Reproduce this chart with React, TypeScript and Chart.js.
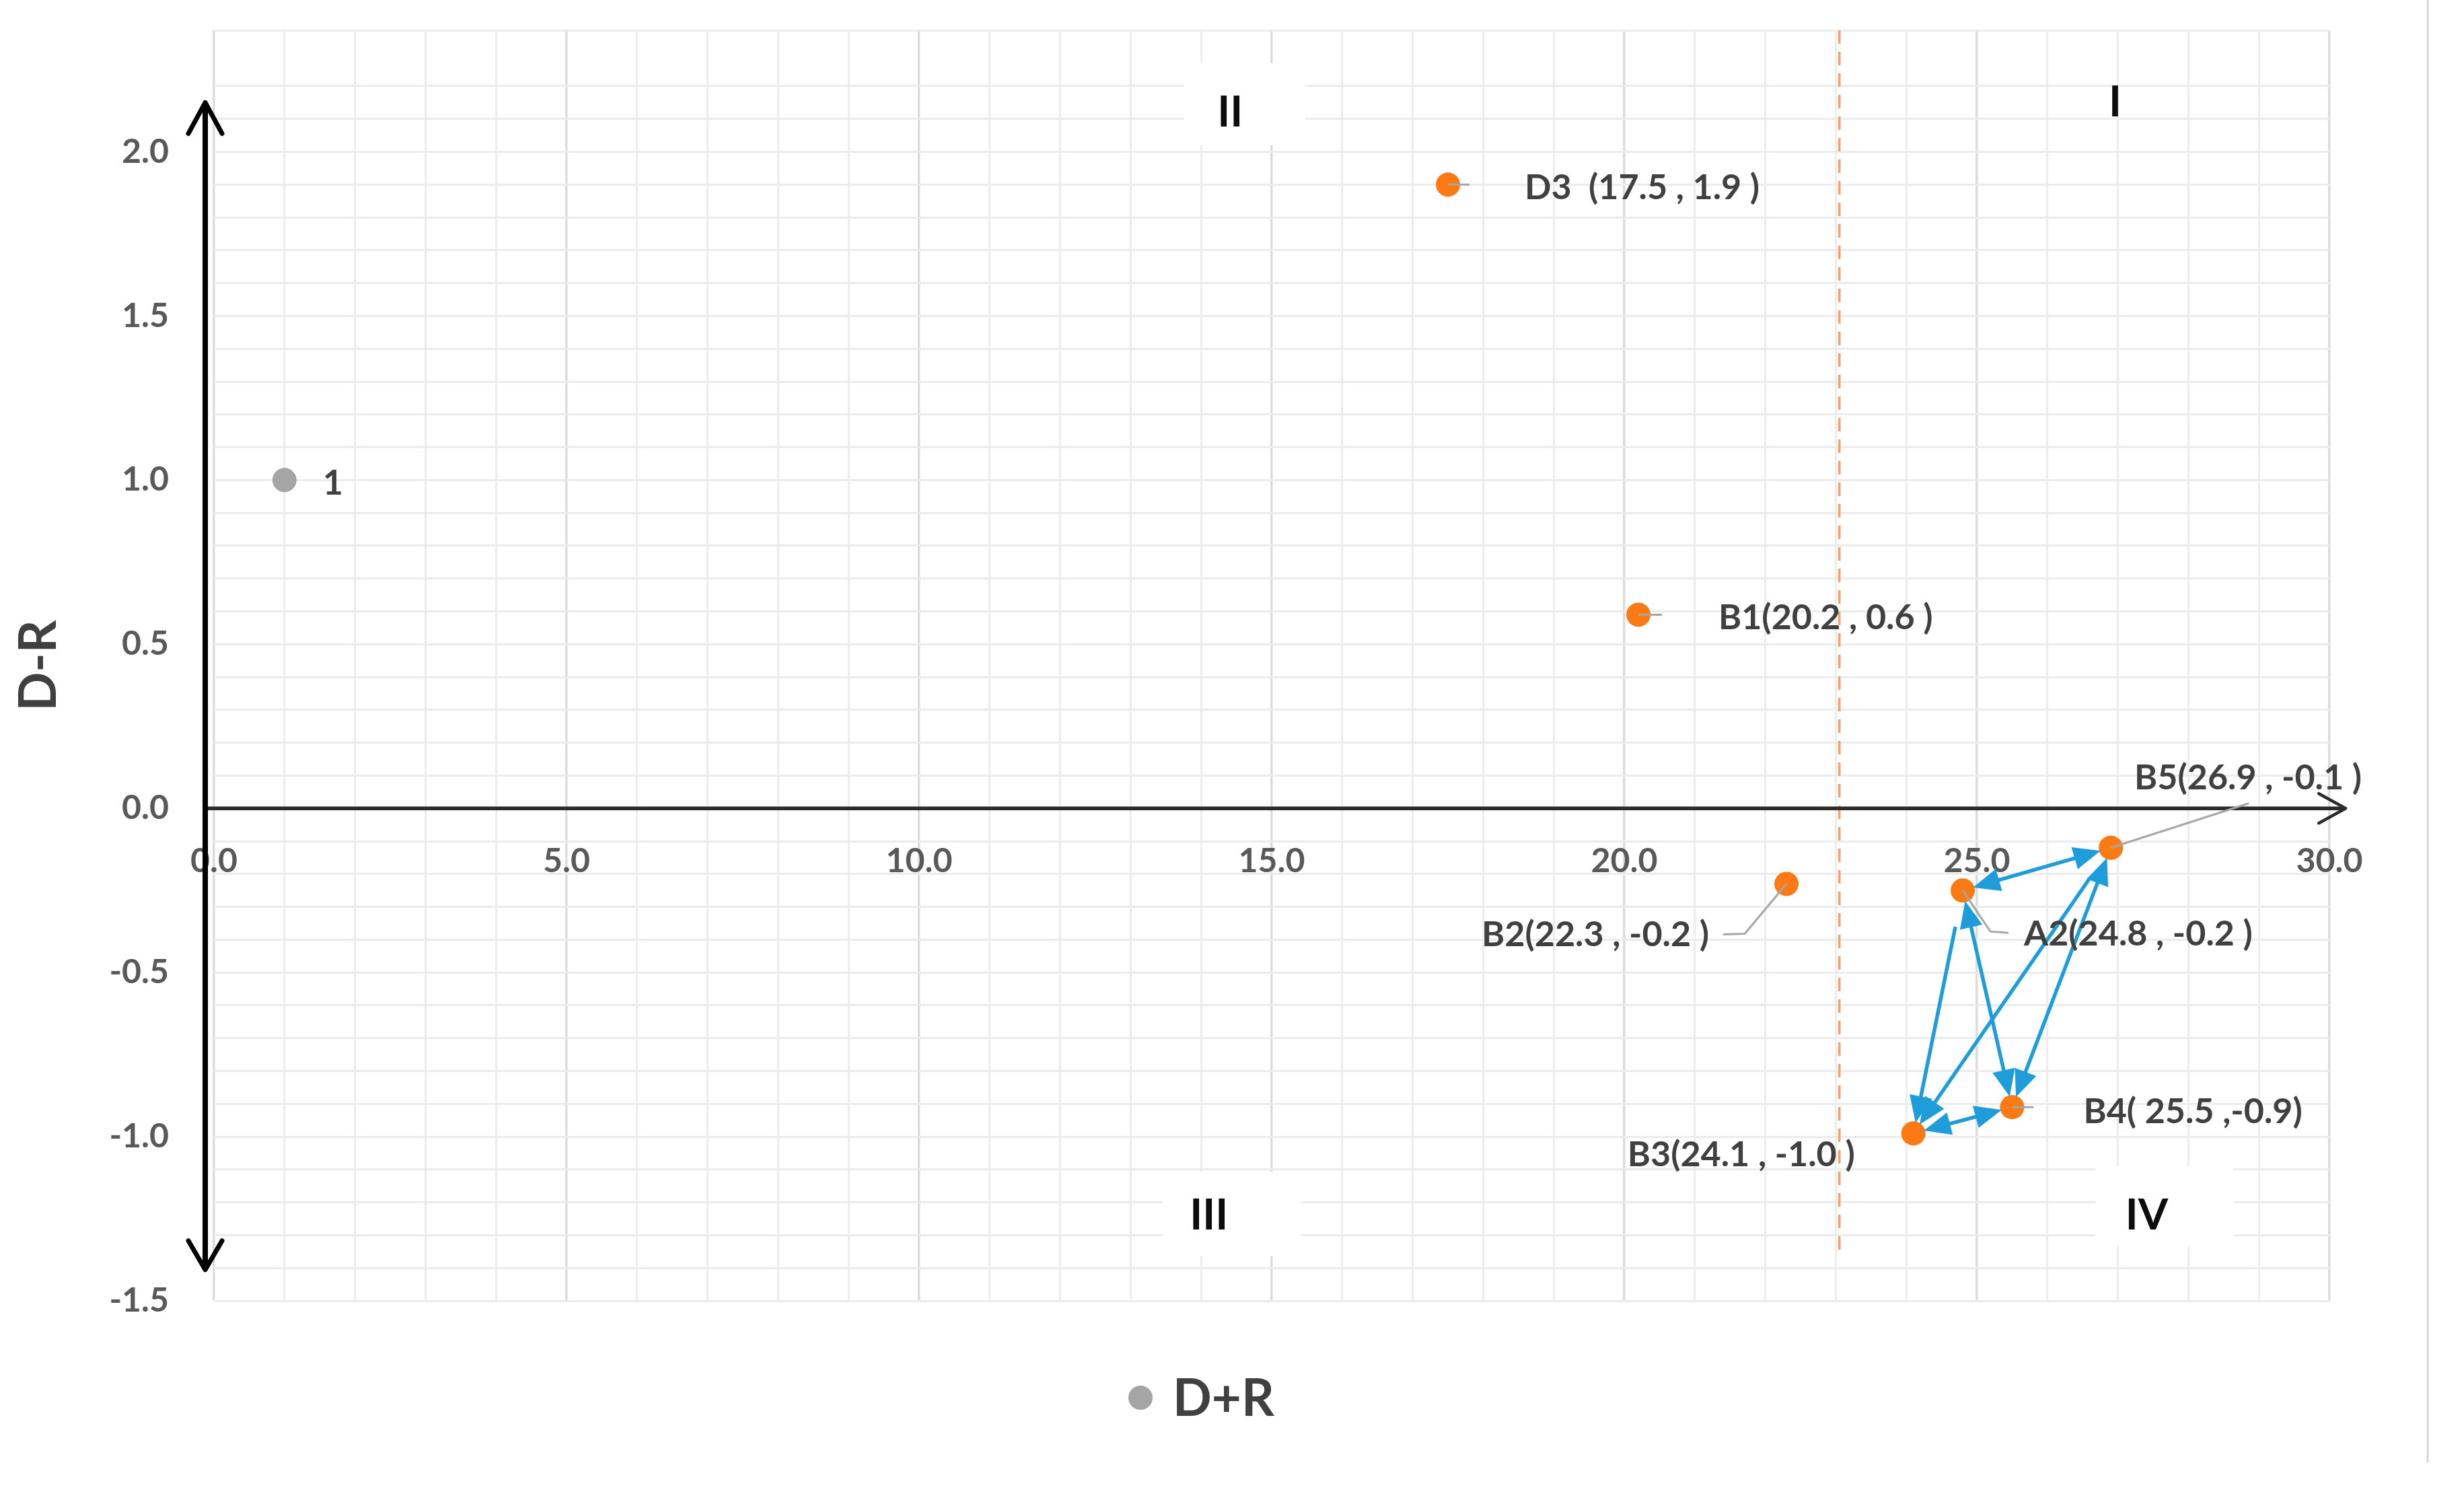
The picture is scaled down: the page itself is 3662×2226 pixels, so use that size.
import React, { useEffect, useRef } from 'react';
import { Chart, registerables } from 'chart.js';

Chart.register(...registerables);

// ---------------- data ----------------
const X_MIN = 0;
const X_MAX = 30;
const X_STEP = 1;
const Y_MIN = -1.5;
const Y_MAX = 2.37;
const Y_STEP = 0.1;

const X_TITLE = 'D+R';
const Y_TITLE = 'D-R';

const GRAY_SERIES_LABEL = 'D+R';
const GRAY_X = [1.0];
const GRAY_Y = [1.0];
const GRAY_LABELS = ['1'];

const POINT_NAMES = ['D3', 'B1', 'B2', 'A2', 'B5', 'B4', 'B3'];
const POINT_X = [17.5, 20.2, 22.3, 24.8, 26.9, 25.5, 24.1];
const POINT_Y = [1.9, 0.59, -0.23, -0.25, -0.12, -0.91, -0.99];
const POINT_LABELS = [
  'D3  (17.5 , 1.9 )',
  'B1(20.2 , 0.6 )',
  'B2(22.3 , -0.2 )',
  'A2(24.8 , -0.2 )',
  'B5(26.9 , -0.1 )',
  'B4( 25.5 ,-0.9)',
  'B3(24.1 , -1.0 )',
];

const THRESHOLD_X = 23.05;
const THRESHOLD_Y_TOP = 2.37;
const THRESHOLD_Y_BOTTOM = -1.355;

const QUADRANT_LABELS = ['I', 'II', 'III', 'IV'];
const QUADRANT_X = [26.96, 14.41, 14.11, 27.41];
const QUADRANT_Y = [2.15, 2.12, -1.24, -1.24];

// axis arrow extents (data units)
const AXIS_Y_TOP = 2.15;
const AXIS_Y_BOTTOM = -1.405;
const AXIS_X_END = 30.23;

// transition arrows between points
const ARROW_FROM = ['A2', 'A2', 'B4', 'B5', 'B3', 'A2'];
const ARROW_TO = ['B5', 'B4', 'B5', 'B3', 'B4', 'B3'];
const ARROW_HEAD_START = [true, true, true, false, true, false];
const ARROW_HEAD_END = [true, true, true, true, true, true];

// ---------------- styles ----------------
const FONT = 'Lato, "Open Sans", "DejaVu Sans", sans-serif';
const ORANGE = '#FB7A14';
const GRAY = '#A5A5A5';
const BLUE = '#1E9DDA';
const TEXT = '#404040';
const TICK_TEXT = '#595959';

// label placement in pixels relative to point
const LABEL_STYLE: Record<string, { dx: number; dy: number; align: CanvasTextAlign; leader: number[][] }> = {
  D3: { dx: 114, dy: 5, align: 'left', leader: [[0, 0], [32, 0]] },
  B1: { dx: 119, dy: 5, align: 'left', leader: [[0, 0], [35, 0]] },
  B2: { dx: -115, dy: 76, align: 'right', leader: [[0, 0], [-62, 74], [-94, 75]] },
  A2: { dx: 91, dy: 65, align: 'left', leader: [[0, 0], [41, 61], [68, 63]] },
  B5: { dx: 35, dy: -104, align: 'left', leader: [[0, 0], [205, -66]] },
  B4: { dx: 106, dy: 7, align: 'left', leader: [[0, 0], [32, 0]] },
  B3: { dx: -87, dy: 32, align: 'right', leader: [] },
};
const GRAY_LABEL_OFFSET = { dx: 57, dy: 5 };
const QUADRANT_BOX = [null, { dx: 22, dy: -12, w: 180, h: 122 }, { dx: 34, dy: -2, w: 205, h: 125 }, { dx: 26, dy: -14, w: 205, h: 118 }];

function idx(name: string) {
  return POINT_NAMES.indexOf(name);
}

function drawHead(ctx: CanvasRenderingContext2D, tx: number, ty: number, ux: number, uy: number) {
  const HL = 40;
  const HW = 17;
  const bx = tx - ux * HL;
  const by = ty - uy * HL;
  ctx.beginPath();
  ctx.moveTo(tx, ty);
  ctx.lineTo(bx - uy * HW, by + ux * HW);
  ctx.lineTo(bx + uy * HW, by - ux * HW);
  ctx.closePath();
  ctx.fill();
}

const overlayPlugin = {
  id: 'overlay',
  beforeDatasetsDraw(chart: any) {
    const { ctx, chartArea } = chart;
    const xs = chart.scales.x;
    const ys = chart.scales.y;
    ctx.save();

    // white boxes behind quadrant labels
    QUADRANT_LABELS.forEach((t, i) => {
      const b = QUADRANT_BOX[i];
      if (!b) return;
      const px = xs.getPixelForValue(QUADRANT_X[i]) + b.dx;
      const py = ys.getPixelForValue(QUADRANT_Y[i]) + b.dy;
      ctx.fillStyle = '#ffffff';
      ctx.fillRect(px - b.w / 2, py - b.h / 2, b.w, b.h);
    });

    // quadrant labels
    ctx.fillStyle = '#0d0d0d';
    ctx.font = `bold 64px ${FONT}`;
    ctx.textAlign = 'center';
    ctx.textBaseline = 'middle';
    QUADRANT_LABELS.forEach((t, i) => {
      ctx.fillText(t, xs.getPixelForValue(QUADRANT_X[i]), ys.getPixelForValue(QUADRANT_Y[i]));
    });

    // dashed threshold line
    const tx = xs.getPixelForValue(THRESHOLD_X);
    ctx.strokeStyle = '#F5A070';
    ctx.lineWidth = 3.5;
    ctx.setLineDash([20, 12]);
    ctx.beginPath();
    ctx.moveTo(tx, ys.getPixelForValue(THRESHOLD_Y_TOP));
    ctx.lineTo(tx, ys.getPixelForValue(THRESHOLD_Y_BOTTOM));
    ctx.stroke();
    ctx.setLineDash([]);

    // axes with arrows
    const ax = chartArea.left - 13;
    const yTop = ys.getPixelForValue(AXIS_Y_TOP);
    const yBot = ys.getPixelForValue(AXIS_Y_BOTTOM);
    const y0 = ys.getPixelForValue(0);
    const xEnd = xs.getPixelForValue(AXIS_X_END);

    ctx.lineCap = 'round';
    ctx.lineJoin = 'round';
    ctx.strokeStyle = '#2b2b2b';
    ctx.lineWidth = 5.5;
    ctx.beginPath();
    ctx.moveTo(ax, y0);
    ctx.lineTo(xEnd - 2, y0);
    ctx.stroke();
    ctx.lineWidth = 4.5;
    ctx.beginPath();
    ctx.moveTo(xEnd - 40, y0 - 22);
    ctx.lineTo(xEnd, y0);
    ctx.lineTo(xEnd - 40, y0 + 22);
    ctx.stroke();

    ctx.strokeStyle = '#000000';
    ctx.lineWidth = 8;
    ctx.beginPath();
    ctx.moveTo(ax, yTop + 3);
    ctx.lineTo(ax, yBot - 3);
    ctx.stroke();
    ctx.lineWidth = 7;
    ctx.beginPath();
    ctx.moveTo(ax - 25, yTop + 46);
    ctx.lineTo(ax, yTop);
    ctx.lineTo(ax + 25, yTop + 46);
    ctx.stroke();
    ctx.beginPath();
    ctx.moveTo(ax - 25, yBot - 43);
    ctx.lineTo(ax, yBot);
    ctx.lineTo(ax + 25, yBot - 43);
    ctx.stroke();

    // right border line of the figure
    ctx.strokeStyle = '#d6d6d6';
    ctx.lineWidth = 3;
    ctx.beginPath();
    ctx.moveTo(3608, 0);
    ctx.lineTo(3608, 2172);
    ctx.stroke();

    ctx.restore();
  },
  afterDatasetsDraw(chart: any) {
    const { ctx } = chart;
    const xs = chart.scales.x;
    const ys = chart.scales.y;
    ctx.save();

    // leader lines
    ctx.strokeStyle = '#a6a6a6';
    ctx.lineWidth = 3;
    POINT_NAMES.forEach((n, i) => {
      const st = LABEL_STYLE[n];
      if (!st.leader.length) return;
      const px = xs.getPixelForValue(POINT_X[i]);
      const py = ys.getPixelForValue(POINT_Y[i]);
      ctx.beginPath();
      st.leader.forEach(([dx, dy], k) => {
        if (k === 0) ctx.moveTo(px + dx, py + dy);
        else ctx.lineTo(px + dx, py + dy);
      });
      ctx.stroke();
    });

    // transition arrows
    ctx.strokeStyle = BLUE;
    ctx.fillStyle = BLUE;
    ctx.lineWidth = 5.5;
    ctx.lineCap = 'butt';
    ARROW_FROM.forEach((f, k) => {
      const a = idx(f);
      const b = idx(ARROW_TO[k]);
      const x1 = xs.getPixelForValue(POINT_X[a]);
      const y1 = ys.getPixelForValue(POINT_Y[a]);
      const x2 = xs.getPixelForValue(POINT_X[b]);
      const y2 = ys.getPixelForValue(POINT_Y[b]);
      const len = Math.hypot(x2 - x1, y2 - y1);
      const ux = (x2 - x1) / len;
      const uy = (y2 - y1) / len;
      const s0 = ARROW_HEAD_START[k] ? 16 : 55;
      const s1 = 16;
      const sx = x1 + ux * s0;
      const sy = y1 + uy * s0;
      const ex = x2 - ux * s1;
      const ey = y2 - uy * s1;
      const hs = ARROW_HEAD_START[k] ? 32 : 0;
      const he = ARROW_HEAD_END[k] ? 32 : 0;
      ctx.beginPath();
      ctx.moveTo(sx + ux * hs, sy + uy * hs);
      ctx.lineTo(ex - ux * he, ey - uy * he);
      ctx.stroke();
      if (ARROW_HEAD_END[k]) drawHead(ctx, ex, ey, ux, uy);
      if (ARROW_HEAD_START[k]) drawHead(ctx, sx, sy, -ux, -uy);
    });

    // point labels
    ctx.fillStyle = TEXT;
    ctx.font = `bold 52px ${FONT}`;
    ctx.textBaseline = 'middle';
    POINT_NAMES.forEach((n, i) => {
      const st = LABEL_STYLE[n];
      const px = xs.getPixelForValue(POINT_X[i]);
      const py = ys.getPixelForValue(POINT_Y[i]);
      ctx.textAlign = st.align;
      ctx.fillText(POINT_LABELS[i], px + st.dx, py + st.dy);
    });
    GRAY_LABELS.forEach((t, i) => {
      ctx.textAlign = 'left';
      ctx.fillText(t, xs.getPixelForValue(GRAY_X[i]) + GRAY_LABEL_OFFSET.dx, ys.getPixelForValue(GRAY_Y[i]) + GRAY_LABEL_OFFSET.dy);
    });

    // legend / x title: gray dot + "D+R"
    ctx.fillStyle = GRAY;
    ctx.beginPath();
    ctx.arc(1695, 2077, 18, 0, Math.PI * 2);
    ctx.fill();
    ctx.fillStyle = TEXT;
    ctx.font = `bold 76px ${FONT}`;
    ctx.textAlign = 'left';
    ctx.fillText(X_TITLE, 1743, 2079);

    ctx.restore();
  },
};

export default function App() {
  const ref = useRef<HTMLCanvasElement>(null);

  useEffect(() => {
    if (!ref.current) return;
    const chart = new Chart(ref.current, {
      type: 'scatter',
      data: {
        datasets: [
          {
            label: GRAY_SERIES_LABEL,
            data: GRAY_X.map((x, i) => ({ x, y: GRAY_Y[i] })),
            backgroundColor: GRAY,
            pointBackgroundColor: GRAY,
            pointBorderWidth: 0,
            pointRadius: 18,
          },
          {
            label: 'points',
            data: POINT_X.map((x, i) => ({ x, y: POINT_Y[i] })),
            backgroundColor: ORANGE,
            pointBackgroundColor: ORANGE,
            pointBorderWidth: 0,
            pointRadius: 18,
          },
        ],
      },
      options: {
        animation: false,
        responsive: false,
        devicePixelRatio: 1,
        events: [],
        layout: { padding: { left: 0, top: 45, right: 200, bottom: 293 } },
        plugins: {
          legend: { display: false },
          tooltip: { enabled: false },
        },
        scales: {
          x: {
            type: 'linear',
            min: X_MIN,
            max: X_MAX,
            position: { y: 0 },
            border: { display: false },
            grid: {
              drawTicks: false,
              lineWidth: (c: any) => (c.tick && Math.round(c.tick.value) % 5 === 0 ? 3.5 : 3),
              color: (c: any) => (c.tick && Math.round(c.tick.value) % 5 === 0 ? '#dcdcdc' : '#ededed'),
            },
            ticks: {
              stepSize: X_STEP,
              maxTicksLimit: 200,
              autoSkip: false,
              maxRotation: 0,
              padding: 49,
              color: TICK_TEXT,
              font: { family: FONT, size: 50, weight: 'bold' },
              callback: (v: any) => (Math.abs(v % 5) < 1e-9 ? Number(v).toFixed(1) : ''),
            },
          },
          y: {
            type: 'linear',
            min: Y_MIN,
            max: Y_MAX,
            position: 'left',
            border: { display: false },
            afterFit: (scale: any) => {
              scale.width = 318;
            },
            grid: {
              drawTicks: true,
              tickLength: 67,
              tickColor: 'rgba(0,0,0,0)',
              lineWidth: 3,
              color: '#ececec',
            },
            title: {
              display: true,
              text: Y_TITLE,
              color: TEXT,
              font: { family: FONT, size: 76, weight: 'bold' },
              padding: { top: 13, bottom: 0 },
            },
            ticks: {
              stepSize: Y_STEP,
              maxTicksLimit: 200,
              autoSkip: false,
              padding: 0,
              color: TICK_TEXT,
              font: { family: FONT, size: 50, weight: 'bold' },
              callback: (v: any) => {
                const d = Number(v) * 2;
                return Math.abs(d - Math.round(d)) < 1e-6 ? Number(v).toFixed(1) : '';
              },
            },
          },
        },
      },
      plugins: [overlayPlugin],
    } as any);
    return () => chart.destroy();
  }, []);

  return (
    <div style={{ position: 'absolute', left: 0, top: 0, width: 3662, height: 2226, background: '#ffffff' }}>
      <canvas ref={ref} width={3662} height={2226} style={{ display: 'block', width: 3662, height: 2226 }} />
    </div>
  );
}
